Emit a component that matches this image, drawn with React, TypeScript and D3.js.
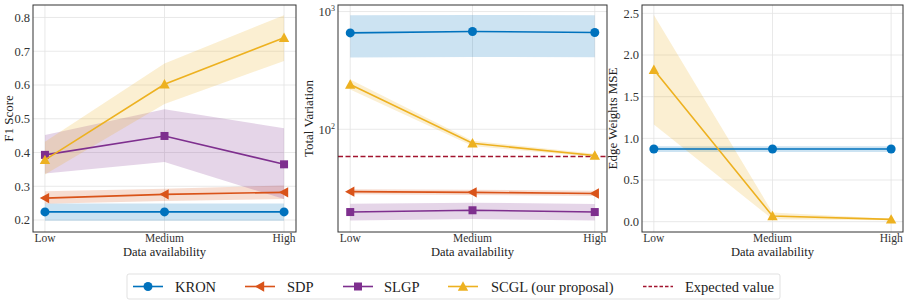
import React from 'react'
import * as d3 from 'd3'

// categories on the x axis
const categories = ['Low', 'Medium', 'High']

// F1 score panel
const kronF1 = [0.224, 0.224, 0.224]
const kronF1Lo = [0.198, 0.198, 0.198]
const kronF1Hi = [0.249, 0.249, 0.249]
const sdpF1 = [0.265, 0.276, 0.282]
const sdpF1Lo = [0.248, 0.256, 0.262]
const sdpF1Hi = [0.285, 0.293, 0.302]
const slgpF1 = [0.393, 0.449, 0.365]
const slgpF1Lo = [0.338, 0.372, 0.262]
const slgpF1Hi = [0.452, 0.528, 0.472]
const scglF1 = [0.378, 0.602, 0.74]
const scglF1Lo = [0.335, 0.544, 0.671]
const scglF1Hi = [0.432, 0.664, 0.807]

// total variation panel (log)
const kronTV = [659, 677, 664]
const kronTVLo = [408, 412, 410]
const kronTVHi = [930, 935, 930]
const sdpTV = [29.5, 29.1, 28.5]
const sdpTVLo = [28.0, 27.7, 27.1]
const sdpTVHi = [31.0, 30.6, 30.0]
const slgpTV = [19.8, 20.5, 19.8]
const slgpTVLo = [16.8, 17.3, 16.8]
const slgpTVHi = [23.3, 23.8, 23.2]
const scglTV = [240, 76, 59.8]
const scglTVLo = [218, 72, 58]
const scglTVHi = [265, 80, 62]
const expectedTV = 58.7

// edge weights MSE panel
const kronMSE = [0.872, 0.872, 0.872]
const kronMSELo = [0.835, 0.835, 0.835]
const kronMSEHi = [0.905, 0.905, 0.905]
const scglMSE = [1.823, 0.068, 0.028]
const scglMSELo = [1.166, 0.03, 0.018]
const scglMSEHi = [2.48, 0.11, 0.036]

const f1Ticks = [0.2, 0.3, 0.4, 0.5, 0.6, 0.7, 0.8]
const tvTicks = [100, 1000]
const mseTicks = [0, 0.5, 1.0, 1.5, 2.0, 2.5]

const C = {
  kron: '#0072BD',
  sdp: '#D95319',
  slgp: '#7E2F8E',
  scgl: '#EDB120',
  exp: '#A2142F'
}

const font = 'Liberation Serif'

type Series = { name: string; color: string; marker: string; y: number[]; lo: number[]; hi: number[] }

function Marker({ kind, x, y, color }: { kind: string; x: number; y: number; color: string }) {
  if (kind === 'circle') return <circle cx={x} cy={y} r={4.5} fill={color} />
  if (kind === 'square') return <rect x={x - 4} y={y - 4} width={8} height={8} fill={color} />
  if (kind === 'tri-up') {
    const s = 5.2
    return <path d={`M${x},${y - s}L${x + s},${y + s * 0.8}L${x - s},${y + s * 0.8}Z`} fill={color} />
  }
  const s = 5.2
  return <path d={`M${x - s},${y}L${x + s * 0.8},${y - s}L${x + s * 0.8},${y + s}Z`} fill={color} />
}

function Panel(props: {
  left: number
  right: number
  top: number
  bottom: number
  y: any
  ticks: number[]
  tickFmt: (v: number) => any
  label: string
  labelX: number
  series: Series[]
  hline?: number
}) {
  const { left, right, top, bottom, y, ticks, tickFmt, label, labelX, series, hline } = props
  const x = d3.scaleLinear().domain([-0.1, 2.1]).range([left, right])
  const line = d3
    .line<number>()
    .x((_, i) => x(i))
    .y(d => y(d))
  const area = (lo: number[], hi: number[]) =>
    d3
      .area<number>()
      .x((_, i) => x(i))
      .y0((_, i) => y(lo[i]))
      .y1((_, i) => y(hi[i]))(lo)

  return (
    <g>
      {/* grid */}
      {ticks.map(t => (
        <line key={'h' + t} x1={left} x2={right} y1={y(t)} y2={y(t)} stroke="#e3e3e3" strokeWidth={0.8} />
      ))}
      {categories.map((c, i) => (
        <line key={'v' + c} x1={x(i)} x2={x(i)} y1={top} y2={bottom} stroke="#e3e3e3" strokeWidth={0.8} />
      ))}
      {series.map(s => (
        <path key={'a' + s.name} d={area(s.lo, s.hi) || ''} fill={s.color} fillOpacity={0.2} />
      ))}
      {hline !== undefined && (
        <line x1={left} x2={right} y1={y(hline)} y2={y(hline)} stroke={C.exp} strokeWidth={1.5} strokeDasharray="5,2.5" />
      )}
      {series.map(s => (
        <g key={'l' + s.name}>
          <path d={line(s.y) || ''} fill="none" stroke={s.color} strokeWidth={1.6} />
          {s.y.map((v, i) => (
            <Marker key={i} kind={s.marker} x={x(i)} y={y(v)} color={s.color} />
          ))}
        </g>
      ))}
      <rect x={left} y={top} width={right - left} height={bottom - top} fill="none" stroke="#333" strokeWidth={1} />
      {ticks.map(t => (
        <text key={'t' + t} x={left - 3} y={y(t)} dy="0.35em" textAnchor="end" fontFamily={font} fontSize={12.5} fill="#333">
          {tickFmt(t)}
        </text>
      ))}
      {categories.map((c, i) => (
        <text key={'c' + c} x={x(i)} y={bottom + 9.5} textAnchor="middle" fontFamily={font} fontSize={11.5} fill="#333">
          {c}
        </text>
      ))}
      <text x={(left + right) / 2} y={bottom + 23.5} textAnchor="middle" fontFamily={font} fontSize={12.5} fill="#222">
        Data availability
      </text>
      <text
        transform={`translate(${labelX},${(top + bottom) / 2}) rotate(-90)`}
        textAnchor="middle"
        fontFamily={font}
        fontSize={13}
        fill="#222"
      >
        {label}
      </text>
    </g>
  )
}

export default function App() {
  const top = 5
  const bottom = 232
  const yF1 = d3.scaleLinear().domain([0.1645, 0.837]).range([bottom, top])
  const yTV = d3.scaleLog().domain([13.4, 1137]).range([bottom, top])
  const yMSE = d3.scaleLinear().domain([-0.124, 2.6]).range([bottom, top])

  const f1Series: Series[] = [
    { name: 'KRON', color: C.kron, marker: 'circle', y: kronF1, lo: kronF1Lo, hi: kronF1Hi },
    { name: 'SDP', color: C.sdp, marker: 'tri-left', y: sdpF1, lo: sdpF1Lo, hi: sdpF1Hi },
    { name: 'SLGP', color: C.slgp, marker: 'square', y: slgpF1, lo: slgpF1Lo, hi: slgpF1Hi },
    { name: 'SCGL', color: C.scgl, marker: 'tri-up', y: scglF1, lo: scglF1Lo, hi: scglF1Hi }
  ]
  const tvSeries: Series[] = [
    { name: 'KRON', color: C.kron, marker: 'circle', y: kronTV, lo: kronTVLo, hi: kronTVHi },
    { name: 'SDP', color: C.sdp, marker: 'tri-left', y: sdpTV, lo: sdpTVLo, hi: sdpTVHi },
    { name: 'SLGP', color: C.slgp, marker: 'square', y: slgpTV, lo: slgpTVLo, hi: slgpTVHi },
    { name: 'SCGL', color: C.scgl, marker: 'tri-up', y: scglTV, lo: scglTVLo, hi: scglTVHi }
  ]
  const mseSeries: Series[] = [
    { name: 'KRON', color: C.kron, marker: 'circle', y: kronMSE, lo: kronMSELo, hi: kronMSEHi },
    { name: 'SCGL', color: C.scgl, marker: 'tri-up', y: scglMSE, lo: scglMSELo, hi: scglMSEHi }
  ]

  const legend = [
    { name: 'KRON', color: C.kron, marker: 'circle', x: 133, tx: 175 },
    { name: 'SDP', color: C.sdp, marker: 'tri-left', x: 245, tx: 287 },
    { name: 'SLGP', color: C.slgp, marker: 'square', x: 343, tx: 384 },
    { name: 'SCGL (our proposal)', color: C.scgl, marker: 'tri-up', x: 448, tx: 491 },
    { name: 'Expected value', color: C.exp, marker: 'none', x: 643, tx: 685 }
  ]

  return (
    <svg
      width={907}
      height={304}
      fontFamily={font}
      style={{ position: 'absolute', left: 0, top: 0, background: '#fff' }}
    >
      <Panel
        left={33}
        right={296}
        top={top}
        bottom={bottom}
        y={yF1}
        ticks={f1Ticks}
        tickFmt={v => v.toFixed(1)}
        label="F1 Score"
        labelX={13}
        series={f1Series}
      />
      <Panel
        left={338}
        right={607}
        top={top}
        bottom={bottom}
        y={yTV}
        ticks={tvTicks}
        tickFmt={v => (
          <tspan>
            10
            <tspan dy={-5} fontSize={8}>
              {Math.round(Math.log10(v))}
            </tspan>
          </tspan>
        )}
        label="Total Variation"
        labelX={313}
        series={tvSeries}
        hline={expectedTV}
      />
      <Panel
        left={642}
        right={903}
        top={top}
        bottom={bottom}
        y={yMSE}
        ticks={mseTicks}
        tickFmt={v => v.toFixed(1)}
        label="Edge Weights MSE"
        labelX={617}
        series={mseSeries}
      />
      <rect x={127} y={274} width={653} height={25} rx={2} fill="#fff" stroke="#d9d9d9" strokeWidth={0.8} />
      {legend.map(l => (
        <g key={l.name}>
          {l.marker === 'none' ? (
            <line x1={l.x} x2={l.x + 30} y1={286.5} y2={286.5} stroke={l.color} strokeWidth={1.5} strokeDasharray="3.5,2" />
          ) : (
            <>
              <line x1={l.x} x2={l.x + 30} y1={286.5} y2={286.5} stroke={l.color} strokeWidth={1.6} />
              <Marker kind={l.marker} x={l.x + 15} y={286.5} color={l.color} />
            </>
          )}
          <text x={l.tx} y={286.5} dy="0.35em" fontFamily={font} fontSize={14.5} fill="#222">
            {l.name}
          </text>
        </g>
      ))}
    </svg>
  )
}
